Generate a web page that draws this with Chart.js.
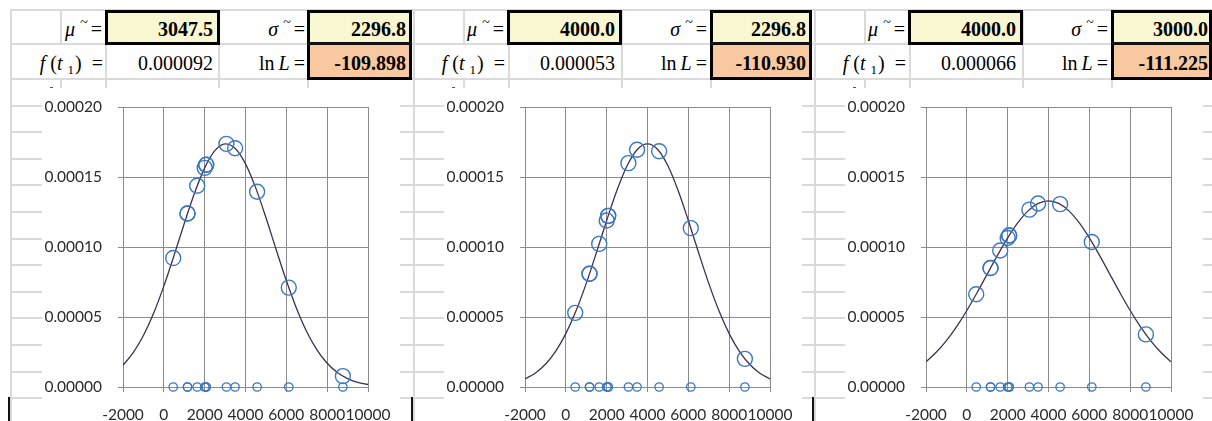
<!DOCTYPE html>
<html>
<head>
<meta charset="utf-8">
<script src="https://cdn.jsdelivr.net/npm/chart.js@4/dist/chart.umd.min.js"></script>
<style>
  html, body { margin: 0; padding: 0; background: #fff; }
  #sheet { position: relative; width: 1212px; height: 421px; overflow: hidden; background: #fff; }
  .gl { position: absolute; background: #dadada; }
  .blk { position: absolute; background: #111; }
  .box { position: absolute; box-sizing: border-box; border: 3px solid #000; }
  .txt { position: absolute; font-family: "Liberation Serif", "Times New Roman", serif; font-size: 20px;
         line-height: 20px; white-space: nowrap; text-align: right; color: #000; }
  .txt b { font-weight: bold; }
  .sup { font-size: 14px; position: relative; top: -9px; margin-left: 5px; margin-right: 3px; }
  .sub { font-size: 13px; position: relative; top: 4px; margin-right: 1px; }
  .g { display: inline-block; }
  canvas.chart { position: absolute; background: #fff; }
</style>
</head>
<body>
<div id="sheet"></div>
<script>
// Observed failure times (same sample in all three panels)
const obsTimes = [460, 1160, 1160, 1635, 2000, 2075, 2075, 3065, 3490, 4570, 6120, 8770];

// Parameter cells shown above each chart
const muText    = ['3047.5', '4000.0', '4000.0'];
const sigmaText = ['2296.8', '2296.8', '3000.0'];
const f1Text    = ['0.000092', '0.000053', '0.000066'];
const lnLText   = ['-109.898', '-110.930', '-111.225'];

// Density curve sample positions
const curveX = [-2000, -1500, -1000, -500, 0, 500, 1000, 1500, 2000, 2500, 3000, 3500, 4000,
                4500, 5000, 5500, 6000, 6500, 7000, 7500, 8000, 8500, 9000, 9500, 10000];

// Density curve values, panel 1..3
const curve1 = [1.553e-5, 2.447e-5, 3.676e-5, 5.269e-5, 7.203e-5, 9.390e-5, 1.1674e-4, 1.3842e-4,
                1.5654e-4, 1.6883e-4, 1.7366e-4, 1.7036e-4, 1.5938e-4, 1.4222e-4, 1.2102e-4, 9.822e-5,
                7.603e-5, 5.612e-5, 3.951e-5, 2.653e-5, 1.699e-5, 1.038e-5, 6.04e-6, 3.36e-6, 1.78e-6];
const curve2 = [5.727e-6, 9.877e-6, 1.6245e-5, 2.5483e-5, 3.8122e-5, 5.4393e-5, 7.4015e-5, 9.6054e-5,
                1.18888e-4, 1.40337e-4, 1.57988e-4, 1.69627e-4, 1.73695e-4, 1.69627e-4, 1.57988e-4,
                1.40337e-4, 1.18888e-4, 9.6054e-5, 7.4015e-5, 5.4393e-5, 3.8122e-5, 2.5483e-5,
                1.6245e-5, 9.877e-6, 5.727e-6];
const curve3 = [1.7997e-5, 2.4770e-5, 3.3159e-5, 4.3172e-5, 5.4670e-5, 6.7332e-5, 8.0657e-5, 9.3971e-5,
                1.06483e-4, 1.17356e-4, 1.25795e-4, 1.31147e-4, 1.32981e-4, 1.31147e-4, 1.25795e-4,
                1.17356e-4, 1.06483e-4, 9.3971e-5, 8.0657e-5, 6.7332e-5, 5.4670e-5, 4.3172e-5,
                3.3159e-5, 2.4770e-5, 1.7997e-5];

// Density at each observed time, panel 1..3
const dens1 = [9.209e-5, 1.2392e-4, 1.2392e-4, 1.4377e-4, 1.5654e-4, 1.5880e-4, 1.5880e-4,
               1.7369e-4, 1.7050e-4, 1.3944e-4, 7.099e-5, 7.795e-6];
const dens2 = [5.296e-5, 8.087e-5, 8.087e-5, 1.0222e-4, 1.1889e-4, 1.2225e-4, 1.2225e-4,
               1.5988e-4, 1.6947e-4, 1.6843e-4, 1.1345e-4, 2.010e-5];
const dens3 = [6.629e-5, 8.495e-5, 8.495e-5, 9.746e-5, 1.0648e-4, 1.0824e-4, 1.0824e-4,
               1.2668e-4, 1.3107e-4, 1.3060e-4, 1.0360e-4, 3.757e-5];

const curves = [curve1, curve2, curve3];
const dens = [dens1, dens2, dens3];

const sheet = document.getElementById('sheet');
function el(cls, l, t, w, h, html) {
  const d = document.createElement('div');
  d.className = cls;
  d.style.position = 'absolute';
  d.style.left = l + 'px'; d.style.top = t + 'px';
  if (w != null) d.style.width = w + 'px';
  if (h != null) d.style.height = h + 'px';
  if (html != null) d.innerHTML = html;
  sheet.appendChild(d);
  return d;
}
const gap = w => '<span class="g" style="width:' + w + 'px"></span>';

// worksheet gridlines
const rowLines = [10, 44, 79];
for (let k = 1; k <= 12; k++) rowLines.push(Math.round(79 + 26.6 * k));
rowLines.forEach(y => el('gl', 10, y - 1, 1202, 2));

const PANEL_X = [0, 402, 803];        // panel offsets
const E_LEFT  = [307, 710, 1111];     // last column, outer border box
const E_RIGHT = [412, 812, 1212];
const BLOCK_X = [8, 411, 812];        // left border of the block under the charts

for (let p = 0; p < 3; p++) {
  const o = PANEL_X[p] + (p ? 1 : 0);
  el('gl', o + 10, 10, 2, 411);          // column A left edge
  el('gl', o + 60, 10, 2, 34);           // A|B in the first row
  el('gl', o + 60, 79, 2, 342);          // A|B below the table
  [105, 218, 307].forEach(x => el('gl', o + x, 10, 2, 411));
}

const ROW1 = 19, ROW2 = 53;

for (let p = 0; p < 3; p++) {
  const o = PANEL_X[p];
  const eW = E_RIGHT[p] - E_LEFT[p];
  // filled and bordered cells
  el('box', o + 105, 10, 115, 35).style.background = '#f8f7d2';
  el('box', E_LEFT[p], 10, eW, 70).style.background = '#f8f7d2';
  el('', E_LEFT[p] + 3, 44, eW - 6, 33).style.background = '#f8c9a0';
  el('blk', E_LEFT[p], 42, eW, 3);

  // short dash left over from the cell above the chart
  el('blk', o + 50, 87, 3, 1).style.background = '#555';

  // text cells
  const valW = E_RIGHT[p] - 6 - E_LEFT[p] - 4 + (p === 2 ? 2 : 0);
  el('txt', o + 20, ROW1, 82, null, '<i>μ</i><span class="sup">~</span>=');
  el('txt', o + 110, ROW1, 103, null, '<b>' + muText[p] + '</b>');
  el('txt', o + 222, ROW1, 83, null, '<i>σ</i><span class="sup">~</span>=');
  el('txt', E_LEFT[p] + 4, ROW1, valW, null, '<b>' + sigmaText[p] + '</b>');
  el('txt', o + 10, ROW2, 93, null,
     '<i>f</i>' + gap(5) + '(<i>t</i>' + gap(5) + '<span class="sub">1</span>)' + gap(10) + '=');
  el('txt', o + 110, ROW2, 103, null, f1Text[p]);
  el('txt', o + 222, ROW2, 83, null, 'ln' + gap(4) + '<i>L</i>' + gap(4) + '=');
  el('txt', E_LEFT[p] + 4, ROW2, valW, null, '<b>' + lnLText[p] + '</b>');

  // border of the block below the charts
  el('blk', BLOCK_X[p], 397, 2, 24);
}

const GRID = '#8b8b8b';
const TICK_FONT = { family: 'Lato, "Open Sans", sans-serif', size: 15.5 };
const CHART_X = [42, 444, 845];

// the plot rectangle is fixed by the layout padding alone
function fitX(s) { s.height = 34; s.paddingLeft = 0; s.paddingRight = 0; }
function fitY(s) { s.width = 81; s.paddingTop = 0; s.paddingBottom = 0; }

function drawChart(p) {
  const cv = document.createElement('canvas');
  cv.className = 'chart';
  cv.width = 358; cv.height = 333;
  cv.style.left = CHART_X[p] + 'px';
  cv.style.top = '88px';
  sheet.appendChild(cv);

  new Chart(cv.getContext('2d'), {
    type: 'scatter',
    data: {
      datasets: [
        {
          type: 'line',
          data: curveX.map((x, i) => ({ x: x, y: curves[p][i] })),
          borderColor: '#3e3150',
          borderWidth: 1.3,
          pointRadius: 0,
          fill: false,
          cubicInterpolationMode: 'monotone',
          order: 3
        },
        {
          data: obsTimes.map((t, i) => ({ x: t, y: dens[p][i] })),
          pointRadius: 7.5,
          borderWidth: 1.4,
          borderColor: '#3b78bf',
          backgroundColor: 'rgba(0,0,0,0)',
          clip: false,
          order: 1
        },
        {
          data: obsTimes.map(t => ({ x: t, y: 0 })),
          pointRadius: 4.2,
          borderWidth: 1.3,
          borderColor: '#3b78bf',
          backgroundColor: 'rgba(0,0,0,0)',
          clip: false,
          order: 2
        }
      ]
    },
    options: {
      responsive: false,
      maintainAspectRatio: false,
      animation: false,
      events: [],
      layout: { autoPadding: false, padding: { top: 19, right: 32, left: 0, bottom: 0 } },
      plugins: { legend: { display: false }, tooltip: { enabled: false } },
      scales: {
        x: {
          type: 'linear', min: -2000, max: 10000,
          ticks: {
            stepSize: 2000, autoSkip: false, maxRotation: 0, minRotation: 0,
            font: TICK_FONT, color: '#2b2b2b', padding: 14,
            callback: v => String(v)
          },
          grid: { color: GRID, tickLength: 5, tickColor: GRID },
          border: { color: GRID },
          afterFit: fitX
        },
        y: {
          min: 0, max: 0.0002,
          ticks: {
            stepSize: 0.00005, font: TICK_FONT, color: '#2b2b2b', padding: 16,
            callback: v => Number(v).toFixed(5)
          },
          grid: { color: GRID, tickLength: 5, tickColor: GRID },
          border: { color: GRID },
          afterFit: fitY
        }
      }
    }
  });
}

document.fonts.load('15px Lato').finally(() => {
  for (let p = 0; p < 3; p++) drawChart(p);
});
</script>
</body>
</html>
